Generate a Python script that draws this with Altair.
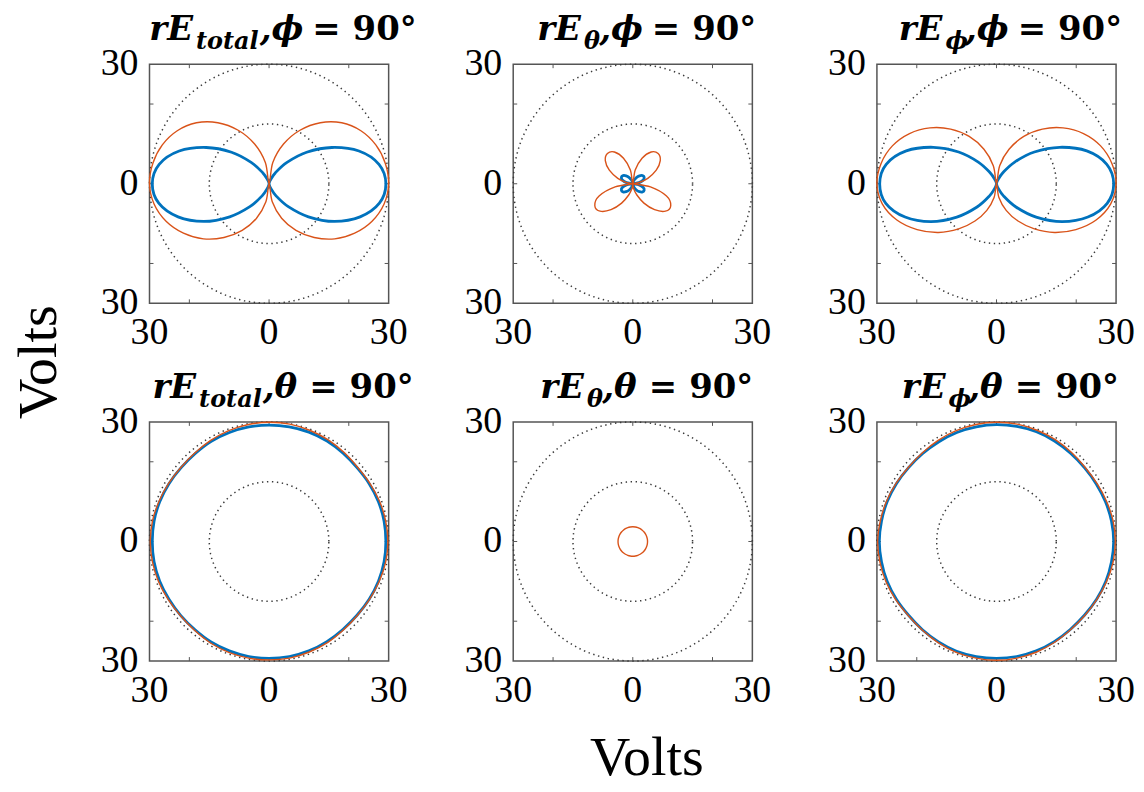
import altair as alt
import numpy as np
import pandas as pd

# ---------------- data ----------------
ANGLES = [0, 10, 20, 30, 40, 50, 60, 70, 80, 90, 100, 110, 120, 130, 140, 150, 160, 170,
          180, 190, 200, 210, 220, 230, 240, 250, 260, 270, 280, 290, 300, 310, 320, 330, 340, 350]

# panel 1: rE_total, phi = 90
ORANGE_1 = [30.0, 29.6, 28.5, 26.6, 23.8, 20.0, 15.5, 10.6, 5.4, 0.0, 5.4, 10.6, 15.5, 20.0, 23.8, 26.6, 28.5, 29.6,
            30.0, 29.3, 27.5, 24.8, 21.5, 17.6, 13.5, 9.2, 4.6, 0.0, 4.6, 9.2, 13.5, 17.6, 21.5, 24.8, 27.5, 29.3]
BLUE_1 = [29.3, 28.0, 24.0, 18.2, 12.3, 7.0, 3.2, 1.0, 0.2, 0.0, 0.2, 1.0, 3.2, 7.0, 12.3, 18.2, 24.0, 28.0,
          29.3, 28.1, 24.3, 18.9, 12.9, 7.5, 3.5, 1.1, 0.2, 0.0, 0.2, 1.1, 3.5, 7.5, 12.9, 18.9, 24.3, 28.1]

# panel 2: rE_theta, phi = 90
ORANGE_2 = [0.0, 1.5, 4.0, 6.8, 9.0, 9.9, 9.2, 6.8, 3.5, 0.0, 3.5, 6.8, 9.2, 9.9, 9.0, 6.8, 4.0, 1.5,
            0.0, 4.5, 9.0, 11.0, 10.7, 8.5, 5.6, 3.0, 1.2, 0.0, 1.2, 3.0, 5.6, 8.5, 10.7, 11.0, 9.0, 4.5]
BLUE_2 = [0.0, 1.6, 2.8, 3.3, 3.2, 2.6, 1.8, 1.0, 0.4, 0.0, 0.4, 1.0, 1.8, 2.6, 3.2, 3.3, 2.8, 1.6,
          0.0, 1.6, 2.8, 3.3, 3.2, 2.6, 1.8, 1.0, 0.4, 0.0, 0.4, 1.0, 1.8, 2.6, 3.2, 3.3, 2.8, 1.6]

# panel 3: rE_phi, phi = 90
ORANGE_3 = [30.0, 29.4, 27.8, 25.2, 21.8, 17.9, 13.7, 9.2, 4.6, 0.0, 4.6, 9.2, 13.7, 17.9, 21.8, 25.2, 27.8, 29.4,
            30.0, 29.1, 26.6, 23.0, 19.0, 14.8, 10.8, 7.1, 3.5, 0.0, 3.5, 7.1, 10.8, 14.8, 19.0, 23.0, 26.6, 29.1]
BLUE_3 = [29.4, 28.1, 24.1, 18.3, 12.4, 7.1, 3.2, 1.0, 0.2, 0.0, 0.2, 1.0, 3.2, 7.1, 12.4, 18.3, 24.1, 28.1,
          29.3, 28.2, 24.4, 19.0, 13.0, 7.6, 3.5, 1.1, 0.2, 0.0, 0.2, 1.1, 3.5, 7.6, 13.0, 19.0, 24.4, 28.2]

# panel 4: rE_total, theta = 90
ORANGE_4 = [29.8, 29.7, 29.5, 29.2, 29.0, 29.2, 29.5, 29.7, 29.9, 29.9, 29.8, 29.6, 29.3, 29.0, 28.9, 29.1, 29.4, 29.7,
            29.8, 29.7, 29.5, 29.2, 29.0, 29.1, 29.4, 29.6, 29.7, 29.7, 29.7, 29.5, 29.3, 29.0, 28.9, 29.1, 29.4, 29.7]
BLUE_4 = [29.3, 29.3, 29.2, 29.0, 28.8, 28.9, 29.1, 29.2, 29.2, 29.2, 29.2, 29.1, 29.0, 28.8, 28.8, 29.0, 29.2, 29.3,
          29.3, 29.3, 29.2, 29.0, 28.9, 28.9, 29.1, 29.2, 29.3, 29.3, 29.3, 29.2, 29.0, 28.8, 28.8, 29.0, 29.2, 29.3]

# panel 5: rE_theta, theta = 90
ORANGE_5 = [3.7, 3.7, 3.7, 3.7, 3.7, 3.7, 3.7, 3.7, 3.7, 3.7, 3.7, 3.7, 3.7, 3.7, 3.7, 3.7, 3.7, 3.7,
            3.7, 3.7, 3.7, 3.7, 3.7, 3.7, 3.7, 3.7, 3.7, 3.7, 3.7, 3.7, 3.7, 3.7, 3.7, 3.7, 3.7, 3.7]
BLUE_5 = []

# panel 6: rE_phi, theta = 90
ORANGE_6 = [29.8, 29.7, 29.4, 29.1, 29.0, 29.2, 29.5, 29.7, 29.9, 29.9, 29.8, 29.6, 29.3, 29.0, 28.9, 29.1, 29.4, 29.6,
            29.8, 29.7, 29.5, 29.2, 28.9, 29.0, 29.3, 29.6, 29.7, 29.8, 29.7, 29.5, 29.2, 28.9, 28.9, 29.1, 29.4, 29.7]
BLUE_6 = [29.4, 29.3, 29.1, 28.9, 28.8, 28.9, 29.1, 29.3, 29.3, 29.3, 29.2, 29.1, 28.9, 28.8, 28.8, 29.0, 29.2, 29.3,
          29.4, 29.3, 29.2, 29.0, 28.8, 28.9, 29.1, 29.3, 29.3, 29.3, 29.3, 29.2, 29.0, 28.8, 28.8, 29.0, 29.2, 29.3]

PANEL_SUBSCRIPTS = ["total", "θ", "ϕ", "total", "θ", "ϕ"]
PANEL_CUT_VARS = ["ϕ", "ϕ", "ϕ", "θ", "θ", "θ"]
CUT_VALUE = "90°"

AXIS_LABEL_VALUES = [-30, 0, 30]
AXIS_LABELS = ["30", "0", "30"]
INNER_TICKS = [-20, 0, 20]
GRID_RADII = [15, 30]
AXIS_TITLE = "Volts"

# ---------------- styling ----------------
W = 240
ORANGE = "#D95319"
BLUE = "#0072BD"
BOX = "#555555"
SERIF = "Liberation Serif"
TFONT = "DejaVu Serif"

scale = alt.Scale(domain=[-30, 30], nice=False, zero=False)


def curve_layer(radii, color, width):
    df = pd.DataFrame({"angle": ANGLES[:len(radii)], "r": radii, "k": list(range(len(radii)))})
    return alt.Chart(df).transform_calculate(
        px="datum.r * cos(datum.angle * PI / 180)",
        py="datum.r * sin(datum.angle * PI / 180)",
    ).mark_line(color=color, strokeWidth=width, interpolate="cardinal-closed").encode(
        x=alt.X("px:Q", scale=scale, axis=None),
        y=alt.Y("py:Q", scale=scale, axis=None),
        order="k:Q",
    )


guide_angles = np.arange(0, 360, 2)
guide_df = pd.DataFrame([
    {"gx": R * np.cos(np.radians(a)), "gy": R * np.sin(np.radians(a)), "ring": R, "k": i}
    for R in GRID_RADII for i, a in enumerate(guide_angles)
])

tick_df = pd.DataFrame({"t": INNER_TICKS})
label_df = pd.DataFrame({"v": AXIS_LABEL_VALUES, "label": AXIS_LABELS})

# approximate glyph widths (em) used to lay out the title pieces
W_BI = {"r": 0.593, "E": 0.757, "t": 0.478, "o": 0.667, "a": 0.667, "l": 0.369,
        "θ": 0.64, "ϕ": 0.82, ",": 0.38}
W_B = {"=": 0.838, "9": 0.696, "0": 0.696, "°": 0.5}


def text_w(s, table, size):
    return sum(table.get(c, 0.6) for c in s) * size


def title_layers(sub, var):
    # (text, style, size, baseline y, width table, gap after)
    pieces = [
        ("rE", "italic", 34, -24, W_BI, 1),
        (sub, "italic", 24, -15, W_BI, 0),
        ("," + var, "italic", 34, -24, W_BI, 12),
        ("=", "normal", 34, -24, W_B, 12),
        (CUT_VALUE, "normal", 34, -24, W_B, 0),
    ]
    total = sum(text_w(p[0], p[4], p[2]) + p[5] for p in pieces)
    x = W / 2 + 14 - total / 2
    out = []
    for txt, style, size, yb, table, gap in pieces:
        out.append(
            alt.Chart(pd.DataFrame({"label": [txt]})).mark_text(
                align="left", baseline="alphabetic", font=TFONT, fontSize=size,
                fontWeight="bold", fontStyle=style, color="black",
            ).encode(x=alt.value(x), y=alt.value(yb), text="label:N")
        )
        x += text_w(txt, table, size) + gap
    return out


def panel(idx, orange, blue, extra=()):
    guide = alt.Chart(guide_df).mark_line(
        interpolate="linear-closed", color="#3a3a3a", strokeWidth=1.5, strokeDash=[1.4, 3.6]
    ).encode(
        x=alt.X("gx:Q", scale=scale, axis=None),
        y=alt.Y("gy:Q", scale=scale, axis=None),
        detail="ring:N",
        order="k:Q",
    )
    tk = dict(color=BOX, strokeWidth=1)
    ticks = [
        alt.Chart(tick_df).mark_rule(**tk).encode(
            x=alt.X("t:Q", scale=scale, axis=None), y=alt.value(W), y2=alt.value(W - 4)),
        alt.Chart(tick_df).mark_rule(**tk).encode(
            x=alt.X("t:Q", scale=scale, axis=None), y=alt.value(0), y2=alt.value(4)),
        alt.Chart(tick_df).mark_rule(**tk).encode(
            y=alt.Y("t:Q", scale=scale, axis=None), x=alt.value(0), x2=alt.value(4)),
        alt.Chart(tick_df).mark_rule(**tk).encode(
            y=alt.Y("t:Q", scale=scale, axis=None), x=alt.value(W), x2=alt.value(W - 4)),
    ]
    xlabels = alt.Chart(label_df).mark_text(
        font=SERIF, fontSize=38, baseline="top", align="center", color="black"
    ).encode(x=alt.X("v:Q", scale=scale, axis=None), y=alt.value(W + 11), text="label:N")
    ylabels = alt.Chart(label_df).mark_text(
        font=SERIF, fontSize=38, baseline="middle", align="right", color="black"
    ).encode(y=alt.Y("v:Q", scale=scale, axis=None), x=alt.value(-11), text="label:N")

    layers = [guide] + ticks + [xlabels, ylabels]
    if blue:
        layers.append(curve_layer(blue, BLUE, 2.8))
    if orange:
        layers.append(curve_layer(orange, ORANGE, 1.4))
    layers += title_layers(PANEL_SUBSCRIPTS[idx], PANEL_CUT_VARS[idx])
    layers += list(extra)
    return alt.layer(*layers).properties(width=W, height=W)


left_title = alt.Chart(pd.DataFrame({"label": [AXIS_TITLE]})).mark_text(
    font=SERIF, fontSize=56, angle=270, align="center", baseline="middle", color="black"
).encode(x=alt.value(-111), y=alt.value(-60), text="label:N")

bottom_title = alt.Chart(pd.DataFrame({"label": [AXIS_TITLE]})).mark_text(
    font=SERIF, fontSize=56, align="center", baseline="alphabetic", color="black"
).encode(x=alt.value(134), y=alt.value(354), text="label:N")

p1 = panel(0, ORANGE_1, BLUE_1)
p2 = panel(1, ORANGE_2, BLUE_2)
p3 = panel(2, ORANGE_3, BLUE_3)
p4 = panel(3, ORANGE_4, BLUE_4, [left_title])
p5 = panel(4, ORANGE_5, BLUE_5, [bottom_title])
p6 = panel(5, ORANGE_6, BLUE_6)

chart = alt.concat(
    p1, p2, p3, p4, p5, p6, columns=3, spacing={"row": 119, "column": 125}, bounds="flush"
).properties(
    padding={"left": 2, "top": 3, "right": 0, "bottom": 0},
    background="white",
).configure_view(stroke=BOX, strokeWidth=1.5)

chart.save("out.html", embed_options={"renderer": "svg", "actions": False})
